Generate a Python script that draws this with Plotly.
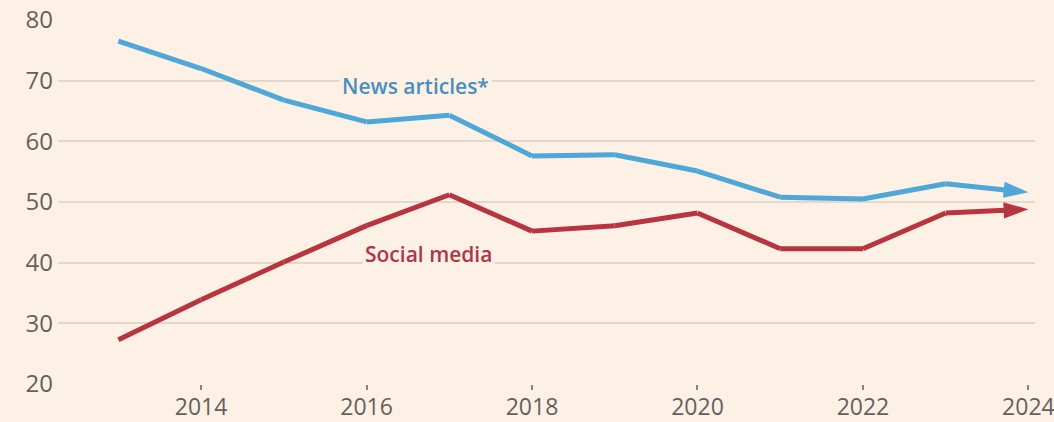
import plotly.graph_objects as go

years = [2013, 2014, 2015, 2016, 2017, 2018, 2019, 2020, 2021, 2022, 2023, 2024]
news_articles = [76.5, 72.0, 66.8, 63.2, 64.3, 57.6, 57.8, 55.1, 50.8, 50.5, 53.0, 51.6]
social_media = [27.3, 33.9, 40.1, 46.1, 51.2, 45.2, 46.1, 48.2, 42.3, 42.3, 48.2, 48.8]
y_ticks = [20, 30, 40, 50, 60, 70, 80]
x_ticks = [2014, 2016, 2018, 2020, 2022, 2024]

BG = "#FDF1E6"
BLUE = "#4EA7D6"
RED = "#B8343F"


def arrow_marker(n, color):
    return dict(
        symbol=["circle"] * (n - 1) + ["arrow"],
        size=[0] * (n - 1) + [26],
        angleref="previous",
        color=color,
        opacity=1,
        line=dict(width=0),
    )


fig = go.Figure()
fig.add_trace(go.Scatter(
    x=years, y=news_articles, mode="lines+markers",
    line=dict(color=BLUE, width=5),
    marker=arrow_marker(len(years), BLUE),
    hoverinfo="skip", showlegend=False,
))
fig.add_trace(go.Scatter(
    x=years, y=social_media, mode="lines+markers",
    line=dict(color=RED, width=5),
    marker=arrow_marker(len(years), RED),
    hoverinfo="skip", showlegend=False,
))

fig.add_annotation(x=2016.59, y=69.1, text="News articles*", showarrow=False,
                   font=dict(family="Open Sans", size=21, color="#4A8DC0", weight=600),
                   bgcolor=BG, borderpad=2)
fig.add_annotation(x=2016.75, y=41.4, text="Social media", showarrow=False,
                   font=dict(family="Open Sans", size=21, color="#B03545", weight=600),
                   bgcolor=BG, borderpad=2)

fig.update_layout(
    width=1054, height=422,
    margin=dict(l=58, r=19, t=20, b=38),
    paper_bgcolor=BG, plot_bgcolor=BG,
    font=dict(family="Open Sans", size=23, color="#66605C"),
)
fig.update_xaxes(
    range=[2012.27, 2024.08], tickvals=x_ticks, showgrid=False, zeroline=False,
    ticks="outside", ticklen=5, tickwidth=1.5, tickcolor="#8A8480",
    ticklabelstandoff=-3, ticklabeloverflow="allow",
    showline=False, automargin=False, tickfont=dict(size=23, color="#66605C"),
)
fig.update_yaxes(
    range=[20, 80], tickvals=y_ticks, showgrid=True, gridcolor="#E4D8CD",
    gridwidth=1.5, zeroline=False, showline=False, ticks="", automargin=False,
    ticklabelstandoff=4, ticklabeloverflow="allow",
    tickfont=dict(size=24, color="#66605C"),
)

fig.write_html(
    "out.html",
    config={"displayModeBar": False},
    post_script="document.body.style.margin='0';document.body.style.background='#FDF1E6';",
)
